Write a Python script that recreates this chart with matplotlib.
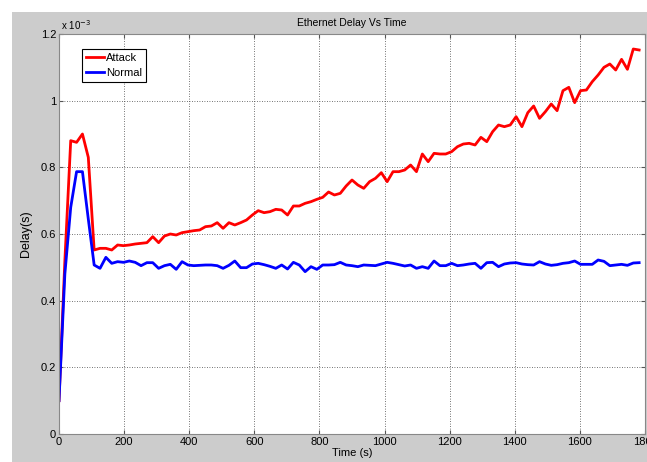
import numpy as np
import matplotlib
matplotlib.use("Agg")
import matplotlib.pyplot as plt
from matplotlib.patches import Rectangle

plt.rcParams['font.family'] = ['Liberation Sans', 'DejaVu Sans']

# time axis (s), one sample every 18 s
time_s = np.arange(0, 1800, 18)

# delay values, in units of 1e-3 s
attack = [0.10, 0.52, 0.88, 0.875, 0.90, 0.83, 0.552, 0.557, 0.557, 0.552,
          0.567, 0.565, 0.567, 0.570, 0.572, 0.574, 0.592, 0.574, 0.594, 0.600,
          0.597, 0.604, 0.607, 0.610, 0.612, 0.622, 0.624, 0.634, 0.617, 0.634,
          0.627, 0.634, 0.642, 0.657, 0.670, 0.664, 0.667, 0.674, 0.672, 0.657,
          0.684, 0.684, 0.692, 0.697, 0.704, 0.710, 0.726, 0.717, 0.722, 0.744,
          0.762, 0.747, 0.737, 0.757, 0.767, 0.784, 0.757, 0.787, 0.787, 0.792,
          0.807, 0.787, 0.840, 0.817, 0.842, 0.840, 0.840, 0.847, 0.862, 0.870,
          0.872, 0.867, 0.890, 0.877, 0.907, 0.927, 0.922, 0.927, 0.952, 0.922,
          0.964, 0.984, 0.947, 0.967, 0.990, 0.970, 1.030, 1.040, 0.994, 1.030,
          1.032, 1.057, 1.077, 1.100, 1.110, 1.092, 1.124, 1.094, 1.155, 1.152]

normal = [0.10, 0.48, 0.68, 0.787, 0.787, 0.645, 0.507, 0.497, 0.530, 0.512,
          0.517, 0.515, 0.519, 0.515, 0.505, 0.514, 0.514, 0.497, 0.505, 0.509,
          0.494, 0.517, 0.507, 0.505, 0.506, 0.507, 0.507, 0.505, 0.497, 0.506,
          0.519, 0.499, 0.499, 0.510, 0.512, 0.508, 0.503, 0.497, 0.507, 0.495,
          0.515, 0.507, 0.487, 0.502, 0.494, 0.507, 0.507, 0.508, 0.515, 0.507,
          0.505, 0.502, 0.507, 0.506, 0.505, 0.510, 0.515, 0.512, 0.508, 0.504,
          0.507, 0.497, 0.502, 0.497, 0.519, 0.505, 0.505, 0.512, 0.505, 0.507,
          0.510, 0.512, 0.497, 0.514, 0.515, 0.502, 0.510, 0.513, 0.514, 0.510,
          0.508, 0.507, 0.517, 0.510, 0.506, 0.508, 0.512, 0.514, 0.519, 0.509,
          0.509, 0.509, 0.522, 0.518, 0.505, 0.507, 0.509, 0.506, 0.513, 0.514]

x_ticks = list(range(0, 2000, 200))
y_ticks = [0, 0.2, 0.4, 0.6, 0.8, 1.0, 1.2]
y_labels = ['0', '0.2', '0.4', '0.6', '0.8', '1', '1.2']

fig = plt.figure(figsize=(6.47, 4.62), dpi=100)
fig.patch.set_facecolor('white')
# matlab style grey figure area
fig.patches.append(Rectangle((12 / 647, 0), 1, 450 / 462, transform=fig.transFigure,
                             facecolor='#cccccc', edgecolor='none', zorder=-10))

ax = fig.add_axes([59 / 647, 28 / 462, 586 / 647, 400 / 462])
ax.plot(time_s, attack, color='#ff0000', lw=2, label='Attack')
ax.plot(time_s, normal, color='#0000ff', lw=2, label='Normal')

ax.set_xlim(0, 1800)
ax.set_ylim(0, 1.2)
ax.set_xticks(x_ticks)
ax.set_yticks(y_ticks)
ax.set_yticklabels(y_labels)
ax.tick_params(direction='in', top=True, right=True, labelsize=8, length=3,
               color='#555555', pad=2)
for s in ax.spines.values():
    s.set_color('#888888')
    s.set_linewidth(0.8)
ax.grid(True, color='#444444', linestyle=(0, (1, 2)), linewidth=0.6)

ax.set_title('Ethernet Delay Vs Time', fontsize=7.5, pad=6)
ax.set_xlabel('Time (s)', fontsize=8, labelpad=1)
ax.set_ylabel('Delay(s)', fontsize=9, labelpad=6)
ax.text(0.003, 1.005, 'x 10$^{-3}$', transform=ax.transAxes, fontsize=7,
        ha='left', va='bottom')

leg = ax.legend(loc='upper left', bbox_to_anchor=(0.039, 0.9625), borderaxespad=0,
                fontsize=8, fancybox=False, framealpha=1, edgecolor='black',
                handlelength=1.6, handletextpad=0.2, borderpad=0.35, labelspacing=0.45)
leg.get_frame().set_linewidth(0.8)

fig.savefig('out.png', dpi=100)
